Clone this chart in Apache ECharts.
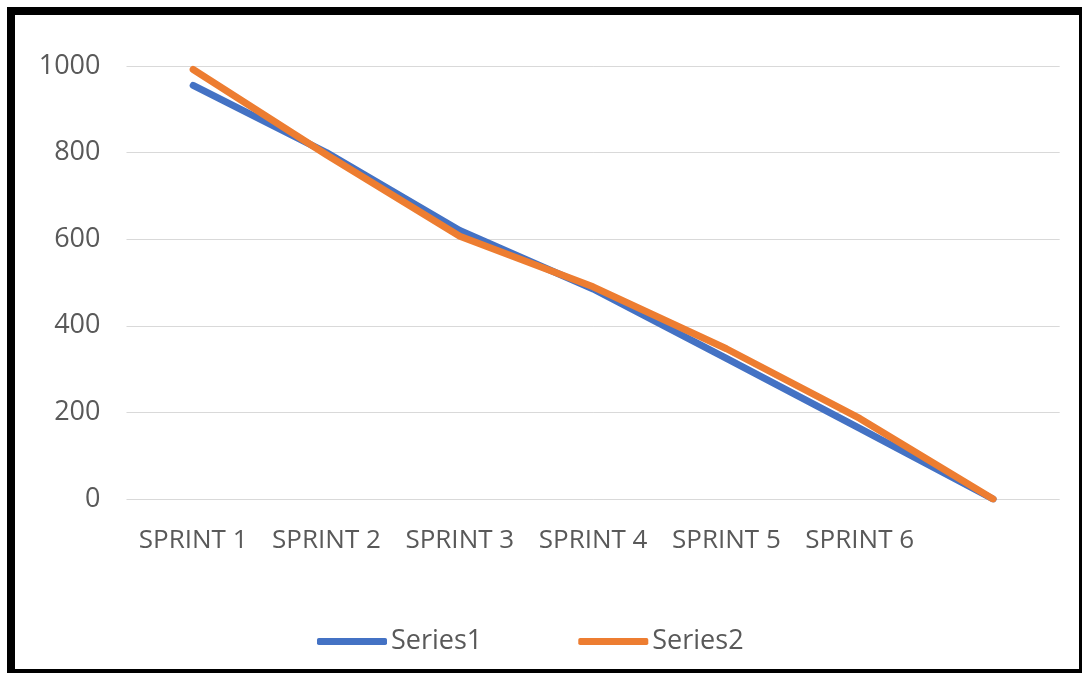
<!DOCTYPE html>
<html>
<head>
<meta charset="utf-8">
<script src="https://cdn.jsdelivr.net/npm/echarts@6/dist/echarts.min.js"></script>
<style>
html,body{margin:0;padding:0;background:#fff;}
#chart{position:absolute;left:0;top:0;width:1083px;height:673px;}
#frame{position:absolute;left:7px;top:7px;width:1075px;height:666px;box-sizing:border-box;
border-left:8px solid #000;border-top:8px solid #000;border-right:3px solid #000;border-bottom:4px solid #000;pointer-events:none;}
</style>
</head>
<body>
<div id="chart"></div>
<div id="frame"></div>
<script>
const categories = ['SPRINT 1','SPRINT 2','SPRINT 3','SPRINT 4','SPRINT 5','SPRINT 6',''];
const series1 = [955, 800, 620, 485, 325, 163, 0];
const series2 = [992, 795, 607, 490, 347, 186, 0];
const seriesNames = ['Series1','Series2'];

const chart = echarts.init(document.getElementById('chart'));
const txt = '#595959';
chart.setOption({
  animation:false,
  backgroundColor:'#fff',
  grid:{left:126.5, right:23.3, top:66, bottom:174, containLabel:false},
  legend:{
    data:seriesNames,
    left:312, top:623,
    itemWidth:70, itemHeight:7, itemGap:96,
    icon:'roundRect',
    textStyle:{color:txt, fontSize:27, fontFamily:'Open Sans', padding:[0,0,0,-1]}
  },
  xAxis:{
    type:'category', data:categories, boundaryGap:true,
    axisLine:{show:false}, axisTick:{show:false},
    axisLabel:{color:txt, fontSize:26, fontFamily:'Open Sans', margin:29, interval:0}
  },
  yAxis:{
    type:'value', min:0, max:1000, interval:200,
    axisLine:{show:false}, axisTick:{show:false},
    axisLabel:{color:txt, fontSize:27, fontFamily:'Open Sans', margin:26, formatter:function(v){return String(v);}},
    splitLine:{lineStyle:{color:'#d9d9d9', width:1}}
  },
  series:[
    {name:seriesNames[0], type:'line', data:series1, symbol:'none',
     itemStyle:{color:'#4472C4'}, lineStyle:{color:'#4472C4', width:7, cap:'round', join:'round'}},
    {name:seriesNames[1], type:'line', data:series2, symbol:'none',
     itemStyle:{color:'#ED7D31'}, lineStyle:{color:'#ED7D31', width:7, cap:'round', join:'round'}}
  ]
});
</script>
</body>
</html>
